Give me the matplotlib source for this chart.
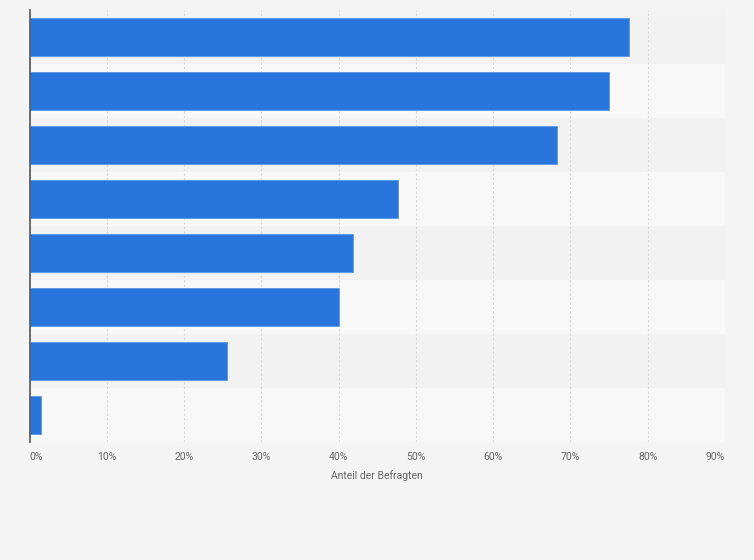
import matplotlib
matplotlib.use("Agg")
import matplotlib.pyplot as plt
from matplotlib.ticker import FuncFormatter

values = [77.6, 75.0, 68.2, 47.7, 41.8, 40.1, 25.5, 1.5]
xticks = [0, 10, 20, 30, 40, 50, 60, 70, 80, 90]
xlabel = "Anteil der Befragten"

plt.rcParams['font.family'] = ['Roboto', 'DejaVu Sans']

fig = plt.figure(figsize=(7.54, 5.6), dpi=100)
fig.patch.set_facecolor('#f4f4f4')
W, H = 754, 560
left, right, top, bottom = 29.5, 725, 10, 442
ax = fig.add_axes([left / W, 1 - bottom / H, (right - left) / W, (bottom - top) / H])
ax.set_facecolor('#f4f4f4')

n = len(values)
ypos = list(range(n))
for i in ypos:
    ax.axhspan(i - 0.5, i + 0.5, xmin=0, xmax=1,
               color='#f2f2f2' if i % 2 == 0 else '#f8f8f8', zorder=0, lw=0)

ax.barh(ypos, values, height=0.69, color='#2876dc', edgecolor='#5a9ae8',
        linewidth=0.6, zorder=3)

ax.set_xlim(0, 90)
ax.set_ylim(n - 0.5, -0.5)
ax.set_xticks(xticks)
ax.xaxis.set_major_formatter(FuncFormatter(lambda v, p: f"{int(v)}%"))
ax.set_yticks([])
ax.grid(axis='x', color='#d8d8d8', linestyle=(0, (2, 2)), linewidth=0.8, zorder=1)
ax.set_axisbelow(True)
for s in ['top', 'right', 'bottom']:
    ax.spines[s].set_visible(False)
ax.spines['left'].set_color('#555555')
ax.spines['left'].set_linewidth(1.2)
ax.spines['left'].set_zorder(5)
ax.tick_params(axis='x', length=0, pad=7, labelsize=7.5, labelcolor='#666666')
ax.set_xlabel(xlabel, fontsize=7.5, color='#666666', labelpad=6)

labels = ax.get_xticklabels()
fig.canvas.draw()
labels = ax.get_xticklabels()
labels[0].set_horizontalalignment('left')
labels[-1].set_horizontalalignment('right')

fig.savefig('out.png', dpi=100, facecolor=fig.get_facecolor())
